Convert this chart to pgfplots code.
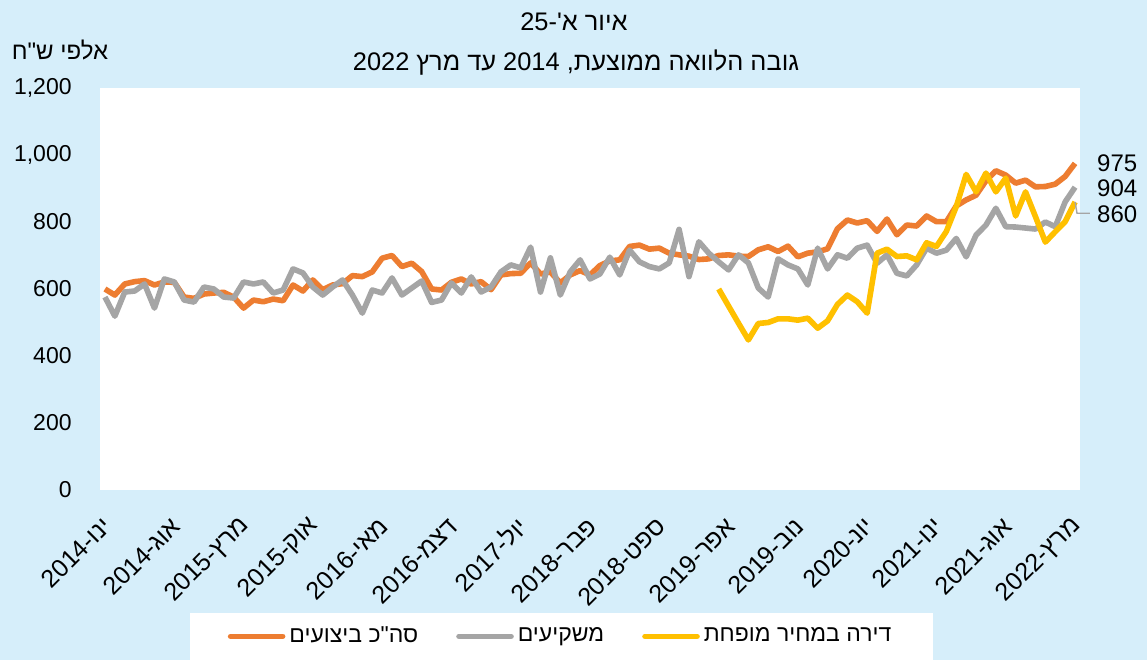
\documentclass[border=0pt]{standalone}
\usepackage{fontspec}
\usepackage{pgfplots}
\pgfplotsset{compat=1.18}
\setmainfont{Liberation Sans}
\newfontfamily\hebfont[Script=Hebrew]{Liberation Sans}
\TeXXeTstate=1
\newcommand{\heb}[1]{{\hebfont\beginR #1\endR}}
\newcommand{\ltr}[1]{\beginL #1\endL}
\definecolor{bgblue}{RGB}{214,238,250}
\definecolor{cOrange}{RGB}{237,125,49}
\definecolor{cGray}{RGB}{165,165,165}
\definecolor{cYellow}{RGB}{255,192,0}

\pgfplotstableread{
i total investors discount
0 600 576 nan
1 582 519 nan
2 615 591 nan
3 622 594 nan
4 625 615 nan
5 612 543 nan
6 621 630 nan
7 620 621 nan
8 576 567 nan
9 572 561 nan
10 585 606 nan
11 588 600 nan
12 590 576 nan
13 576 573 nan
14 543 621 nan
15 567 615 nan
16 562 621 nan
17 570 588 nan
18 565 597 nan
19 612 660 nan
20 594 648 nan
21 627 606 nan
22 598 582 nan
23 612 606 nan
24 616 627 nan
25 640 582 nan
26 637 528 nan
27 651 597 nan
28 692 588 nan
29 700 633 nan
30 667 582 nan
31 677 603 nan
32 652 624 nan
33 600 560 nan
34 597 567 nan
35 620 618 nan
36 630 588 nan
37 615 636 nan
38 622 591 nan
39 598 606 nan
40 642 651 nan
41 646 672 nan
42 647 663 nan
43 678 725 nan
44 645 591 nan
45 651 693 nan
46 618 582 nan
47 642 651 nan
48 655 687 nan
49 642 630 nan
50 670 645 nan
51 684 695 nan
52 687 642 nan
53 727 716 nan
54 731 681 nan
55 719 667 nan
56 722 660 nan
57 707 678 nan
58 702 778 nan
59 698 637 nan
60 688 741 nan
61 690 707 nan
62 700 681 600
63 702 657 549
64 698 702 498
65 697 678 448
66 717 603 497
67 726 576 500
68 712 690 511
69 728 672 511
70 696 660 507
71 707 612 513
72 711 722 483
73 720 660 505
74 780 702 554
75 806 692 582
76 797 722 562
77 804 731 528
78 772 677 707
79 809 702 719
80 762 647 697
81 791 639 699
82 788 672 687
83 818 722 738
84 801 707 727
85 801 716 772
86 848 751 846
87 866 696 942
88 880 761 890
89 923 791 946
90 953 841 890
91 940 786 931
92 916 785 818
93 925 782 890
94 905 779 816
95 906 800 740
96 913 786 771
97 936 860 801
98 975 904 860
}\datatable

\begin{document}
\begin{tikzpicture}
\path[use as bounding box, fill=bgblue] (-50pt,-85pt) rectangle (523.5pt,245pt);
\begin{axis}[
  at={(0pt,0pt)}, anchor=south west,
  scale only axis, width=490pt, height=201pt,
  xmin=-0.5, xmax=98.5, ymin=0, ymax=1200,
  axis background/.style={fill=white},
  axis line style={draw=none},
  tick style={draw=none},
  major tick length=0pt,
  clip=false,
  ytick={0,200,...,1200},
  /pgf/number format/assume math mode=true,
  /pgf/number format/1000 sep={,},
  yticklabel style={font=\fontsize{11.5}{13}\selectfont, inner sep=0pt, xshift=-14pt},
  xtick={0,7,...,98},
  xticklabels={
    \heb{ינו-\ltr{2014}},\heb{אוג-\ltr{2014}},\heb{מרץ-\ltr{2015}},\heb{אוק-\ltr{2015}},
    \heb{מאי-\ltr{2016}},\heb{דצמ-\ltr{2016}},\heb{יול-\ltr{2017}},\heb{פבר-\ltr{2018}},
    \heb{ספט-\ltr{2018}},\heb{אפר-\ltr{2019}},\heb{נוב-\ltr{2019}},\heb{יונ-\ltr{2020}},
    \heb{ינו-\ltr{2021}},\heb{אוג-\ltr{2021}},\heb{מרץ-\ltr{2022}}},
  xticklabel style={font=\fontsize{12.5}{14}\selectfont, yshift=-16pt, xshift=1pt, rotate=45, anchor=east, inner sep=0pt},
  legend columns=3,
  legend style={at={(rel axis cs:0.471,-0.364)}, anchor=center, draw=none, fill=white,
    font=\fontsize{11.5}{13}\selectfont, inner xsep=19pt, inner ysep=5pt,
    /tikz/every even column/.append style={column sep=17pt}},
  legend image code/.code={\draw[#1, line width=2.8pt, line cap=round] (0pt,0pt) -- (26pt,0pt);},
  every axis plot/.append style={line width=2.8pt, line join=round, no markers},
]
\addplot[cOrange] table[x=i, y=total] {\datatable};
\addlegendentry{\heb{סה"כ ביצועים}}
\addplot[cGray] table[x=i, y=investors] {\datatable};
\addlegendentry{\heb{משקיעים}}
\addplot[cYellow, unbounded coords=jump] table[x=i, y=discount] {\datatable};
\addlegendentry{\heb{דירה במחיר מופחת}}
\draw[cGray, line width=0.7pt] (axis cs:98,860) -- (axis cs:98.2,826) -- (axis cs:99.5,826);
\node[anchor=west, inner sep=0pt, font=\fontsize{12}{14}\selectfont] at (axis cs:100.2,975) {975};
\node[anchor=west, inner sep=0pt, font=\fontsize{12}{14}\selectfont] at (axis cs:100.2,900) {904};
\node[anchor=west, inner sep=0pt, font=\fontsize{12}{14}\selectfont] at (axis cs:100.2,824) {860};
\end{axis}
\node[font=\fontsize{12.7}{14}\selectfont] at (237pt,234pt) {\heb{איור א'-\ltr{25}}};
\node[font=\fontsize{12.7}{14}\selectfont] at (238pt,213.5pt) {\heb{גובה הלוואה ממוצעת, \ltr{2014} עד מרץ \ltr{2022}}};
\node[font=\fontsize{12}{14}\selectfont] at (-20pt,220pt) {\heb{אלפי ש"ח}};
\end{tikzpicture}
\end{document}
